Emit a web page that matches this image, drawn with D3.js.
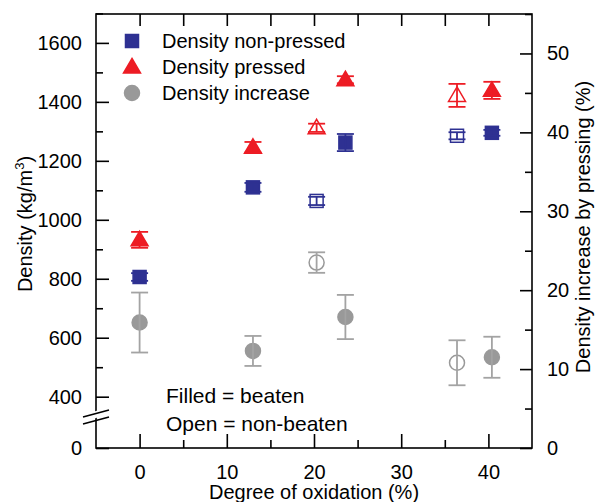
<!DOCTYPE html>
<html>
<head>
<meta charset="utf-8">
<script src="https://cdn.jsdelivr.net/npm/d3@7"></script>
<style>
  body { margin: 0; background: #fff; }
  svg { display: block; font-family: "Liberation Sans", Arial, sans-serif; }
</style>
</head>
<body>
<svg id="chart" width="595" height="502"></svg>
<script>
// Density vs degree of oxidation, two y axes (left: kg/m3, right: %)
const oxidation = [0, 13, 20.3, 23.6, 36.4, 40.4];
const beaten = [true, true, false, true, false, true];
const densityNonPressed = [806, 1110, 1064, 1262, 1285, 1295];
const densityNonPressedErr = [13, 15, 14, 29, 12, 10];
const densityPressed = [932, 1246, 1312, 1475, 1422, 1439];
const densityPressedErr = [27, 18, 14, 12, 39, 29];
const densityIncrease = [15.9, 12.3, 23.5, 16.6, 10.8, 11.5];
const densityIncreaseErr = [3.8, 1.9, 1.3, 2.8, 2.85, 2.6];

const legendLabels = ["Density non-pressed", "Density pressed", "Density increase"];
const leftTicks = [400, 600, 800, 1000, 1200, 1400, 1600];
const rightTicks = [0, 10, 20, 30, 40, 50];
const xTicks = [0, 10, 20, 30, 40];

const blue = "#2e3192", red = "#ed1c24", grey = "#999999", greyBar = "#a3a3a3";

const svg = d3.select("#chart");
const plotLeft = 96, plotRight = 532, plotTop = 14, plotBottom = 448;

const x = d3.scaleLinear().domain([-5, 45]).range([plotLeft, plotRight]);
const yL = d3.scaleLinear().domain([226, 1698]).range([plotBottom, plotTop]);
const yR = d3.scaleLinear().domain([0, 55]).range([plotBottom, plotTop]);

const fontSize = "20px";

// frame
svg.append("rect")
    .attr("x", plotLeft).attr("y", plotTop)
    .attr("width", plotRight - plotLeft).attr("height", plotBottom - plotTop)
    .attr("fill", "none").attr("stroke", "#000").attr("stroke-width", 1.6);

function styleAxis(g) {
    g.select(".domain").remove();
    g.selectAll("line").attr("stroke", "#000").attr("stroke-width", 1.6);
    g.selectAll("text").attr("font-size", fontSize).attr("fill", "#000")
        .attr("font-family", "Liberation Sans, Arial, sans-serif");
}

// bottom axis
svg.append("g").attr("transform", `translate(0,${plotBottom})`)
    .call(d3.axisBottom(x).tickValues(xTicks).tickSizeInner(-14).tickSizeOuter(0).tickPadding(17))
    .call(styleAxis);
svg.append("g").attr("transform", `translate(0,${plotBottom})`)
    .call(d3.axisBottom(x).tickValues(xTicks.map(d => d + 5).filter(d => d < 45)).tickSizeInner(-8).tickSizeOuter(0).tickFormat(""))
    .call(styleAxis);

// top axis (all ticks same length, no labels)
svg.append("g").attr("transform", `translate(0,${plotTop})`)
    .call(d3.axisTop(x).tickValues(d3.range(0, 45, 5)).tickSizeInner(-12).tickSizeOuter(0).tickFormat(""))
    .call(styleAxis);

// left axis, with broken bottom labelled 0
const yMin = yL.domain()[0];
svg.append("g").attr("transform", `translate(${plotLeft},0)`)
    .call(d3.axisLeft(yL).tickValues([yMin].concat(leftTicks)).tickSizeInner(-13).tickSizeOuter(0).tickPadding(14)
        .tickFormat(d => d === yMin ? "0" : d))
    .call(styleAxis);
svg.append("g").attr("transform", `translate(${plotLeft},0)`)
    .call(d3.axisLeft(yL).tickValues(leftTicks.map(d => d + 100)).tickSizeInner(-7).tickSizeOuter(0).tickFormat(""))
    .call(styleAxis);

// right axis
svg.append("g").attr("transform", `translate(${plotRight},0)`)
    .call(d3.axisRight(yR).tickValues(rightTicks).tickSizeInner(-12).tickSizeOuter(0).tickPadding(15))
    .call(styleAxis);
svg.append("g").attr("transform", `translate(${plotRight},0)`)
    .call(d3.axisRight(yR).tickValues(rightTicks.map(d => d + 5)).tickSizeInner(-7).tickSizeOuter(0).tickFormat(""))
    .call(styleAxis);

// axis break marks on the left axis
const brk = svg.append("g");
brk.append("polygon")
    .attr("points", `${plotLeft - 3},${412} ${plotLeft + 3},${410} ${plotLeft + 3},${417} ${plotLeft - 3},${419}`)
    .attr("fill", "#fff");
[0, 7].forEach(off => {
    brk.append("line")
        .attr("x1", plotLeft - 13).attr("y1", 417 + off)
        .attr("x2", plotLeft + 13).attr("y2", 410 + off)
        .attr("stroke", "#000").attr("stroke-width", 1.6);
});

// axis titles
svg.append("text")
    .attr("x", (plotLeft + plotRight) / 2).attr("y", 499)
    .attr("text-anchor", "middle").attr("font-size", fontSize)
    .text("Degree of oxidation (%)");

const lt = svg.append("text")
    .attr("transform", "translate(32,224) rotate(-90)")
    .attr("text-anchor", "middle").attr("font-size", fontSize);
lt.append("tspan").text("Density (kg/m");
lt.append("tspan").attr("font-size", "13px").attr("dy", "-8").text("3");
lt.append("tspan").attr("dy", "8").text(")");

svg.append("text")
    .attr("transform", "translate(590,227) rotate(-90)")
    .attr("text-anchor", "middle").attr("font-size", fontSize)
    .text("Density increase by pressing (%)");

// markers
function square(g, cx, cy, color, filled) {
    g.append("rect")
        .attr("x", cx - 6.5).attr("y", cy - 6.5).attr("width", 13).attr("height", 13)
        .attr("fill", filled ? color : "#fff").attr("stroke", color).attr("stroke-width", 1.5);
}
function triangle(g, cx, cy, color, filled) {
    g.append("polygon")
        .attr("points", `${cx},${cy - 8.5} ${cx + 8.5},${cy + 6} ${cx - 8.5},${cy + 6}`)
        .attr("fill", filled ? color : "#fff").attr("stroke", color).attr("stroke-width", 1.5);
}
function circle(g, cx, cy, color, filled) {
    g.append("circle")
        .attr("cx", cx).attr("cy", cy).attr("r", 7.5)
        .attr("fill", filled ? color : "#fff").attr("stroke", color).attr("stroke-width", 1.5);
}

function errorBars(values, errs, scale, color) {
    const g = svg.append("g");
    values.forEach((v, i) => {
        const cx = x(oxidation[i]);
        const y1 = scale(v - errs[i]), y2 = scale(v + errs[i]);
        g.append("line").attr("x1", cx).attr("x2", cx).attr("y1", y1).attr("y2", y2)
            .attr("stroke", color).attr("stroke-width", 1.8);
        [y1, y2].forEach(yy => {
            g.append("line").attr("x1", cx - 8.5).attr("x2", cx + 8.5).attr("y1", yy).attr("y2", yy)
                .attr("stroke", color).attr("stroke-width", 1.8);
        });
    });
}

// markers first, error bars over them (as in the original plot)
const marks = svg.append("g");
densityIncrease.forEach((v, i) => circle(marks, x(oxidation[i]), yR(v), grey, beaten[i]));
densityNonPressed.forEach((v, i) => square(marks, x(oxidation[i]), yL(v), blue, beaten[i]));
densityPressed.forEach((v, i) => triangle(marks, x(oxidation[i]), yL(v), red, beaten[i]));

errorBars(densityIncrease, densityIncreaseErr, yR, greyBar);
errorBars(densityNonPressed, densityNonPressedErr, yL, blue);
errorBars(densityPressed, densityPressedErr, yL, red);

// legend
const legend = svg.append("g");
const drawers = [square, triangle, circle];
const colors = [blue, red, grey];
legendLabels.forEach((label, i) => {
    const cy = 41 + i * 26;
    drawers[i](legend, 132, cy, colors[i], true);
    legend.append("text")
        .attr("x", 162).attr("y", cy + 7)
        .attr("font-size", fontSize)
        .text(label);
});

// note on fill
svg.append("text").attr("x", 166).attr("y", 403).attr("font-size", "21px").text("Filled = beaten");
svg.append("text").attr("x", 166).attr("y", 431).attr("font-size", "21px").text("Open = non-beaten");
</script>
</body>
</html>
